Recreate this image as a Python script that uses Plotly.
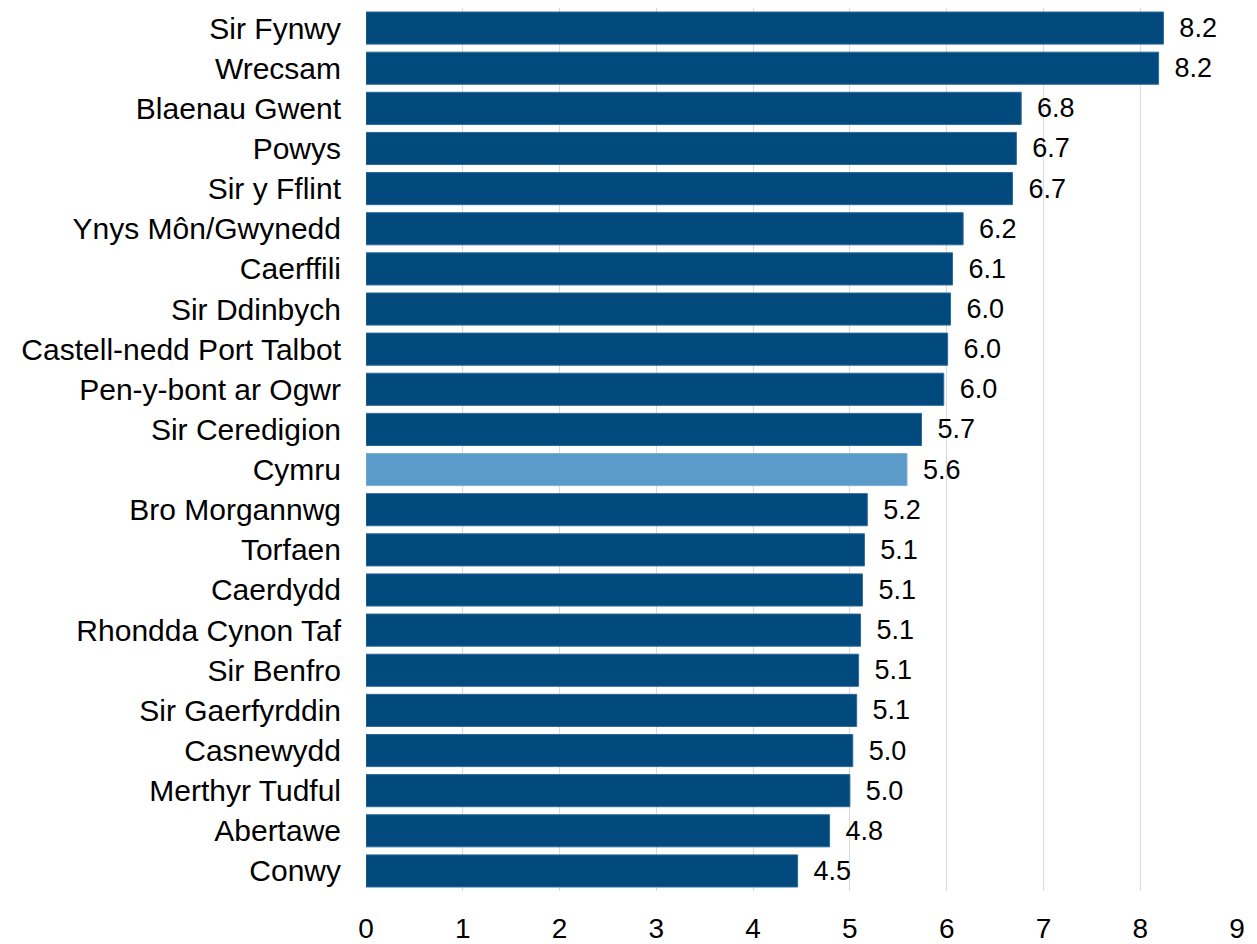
import plotly.graph_objects as go

categories = ["Sir Fynwy", "Wrecsam", "Blaenau Gwent", "Powys", "Sir y Fflint",
              "Ynys Môn/Gwynedd", "Caerffili", "Sir Ddinbych", "Castell-nedd Port Talbot",
              "Pen-y-bont ar Ogwr", "Sir Ceredigion", "Cymru", "Bro Morgannwg", "Torfaen",
              "Caerdydd", "Rhondda Cynon Taf", "Sir Benfro", "Sir Gaerfyrddin", "Casnewydd",
              "Merthyr Tudful", "Abertawe", "Conwy"]
values = [8.24, 8.19, 6.77, 6.72, 6.68, 6.17, 6.06, 6.04, 6.01, 5.97, 5.74, 5.59,
          5.18, 5.15, 5.13, 5.11, 5.09, 5.07, 5.03, 5.00, 4.79, 4.46]
value_labels = ["8.2", "8.2", "6.8", "6.7", "6.7", "6.2", "6.1", "6.0", "6.0", "6.0", "5.7", "5.6",
                "5.2", "5.1", "5.1", "5.1", "5.1", "5.1", "5.0", "5.0", "4.8", "4.5"]
x_ticks = [0, 1, 2, 3, 4, 5, 6, 7, 8, 9]

dark = "#02497d"
light = "#5b9bc9"
colors = [light if c == "Cymru" else dark for c in categories]
edge = ["#7fb0d6" if c == "Cymru" else "#2b6a99" for c in categories]

FONT = "Liberation Sans, Arial, sans-serif"

fig = go.Figure(go.Bar(
    x=values, y=categories, orientation="h",
    marker=dict(color=colors, line=dict(color=edge, width=1)),
    text=["\u00a0\u2009" + t for t in value_labels],
    textposition="outside", cliponaxis=False,
    textfont=dict(family=FONT, size=27, color="black"),
))

fig.update_layout(
    width=1249, height=936,
    margin=dict(l=358, r=20, t=0, b=46),
    paper_bgcolor="white", plot_bgcolor="white",
    bargap=0.2, showlegend=False,
    font=dict(family=FONT, color="black"),
    xaxis=dict(range=[0, 9], tickvals=x_ticks, showgrid=True, gridcolor="#d9d9d9",
               gridwidth=1, zeroline=False, showline=False,
               tickfont=dict(size=28), ticks="", ticklabelstandoff=18),
    yaxis=dict(autorange="reversed", showgrid=False, showline=False, ticks="",
               tickfont=dict(size=30), ticklabelstandoff=24),
)

fig.write_html("out.html")
